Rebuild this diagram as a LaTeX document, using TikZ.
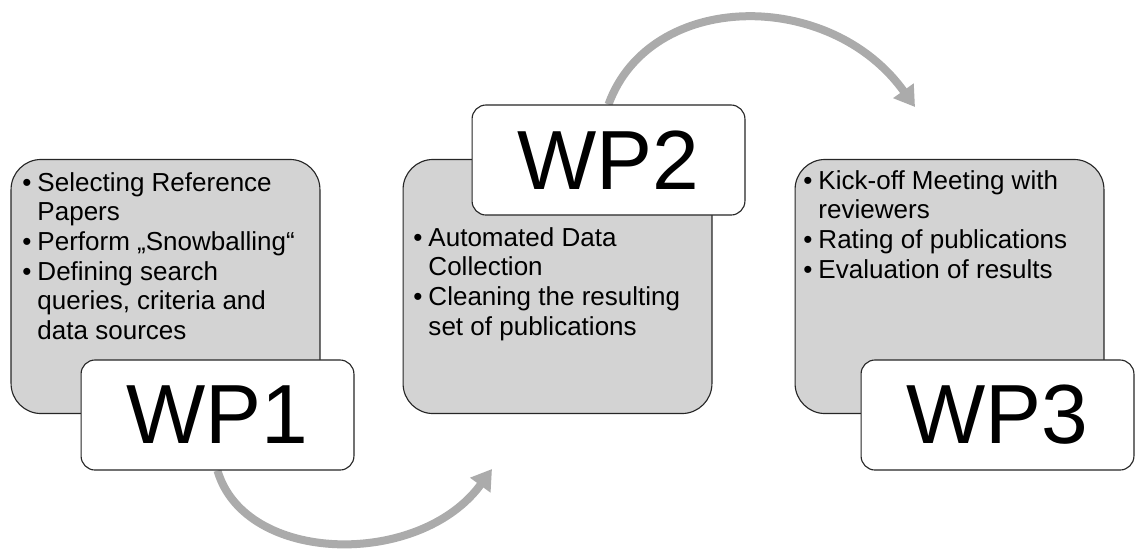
\documentclass[tikz,border=0pt]{standalone}
\usepackage{fontspec}
\setmainfont{Liberation Sans}
\usetikzlibrary{arrows.meta,backgrounds}
\definecolor{cajagris}{HTML}{D3D3D3}
\definecolor{flechagris}{HTML}{ABABAB}
\definecolor{borde}{HTML}{262626}
\newcommand{\bul}{\makebox[0.38cm][l]{\textbullet}}
\newcommand{\sig}{\hspace*{0.38cm}}

\begin{document}
\begin{tikzpicture}[x=0.025cm,y=-0.025cm,
    caja/.style={draw=borde,line width=0.8pt,fill=cajagris,rounded corners=0.75cm,
        minimum width=7.72cm,minimum height=6.35cm,inner sep=0pt},
    etiqueta/.style={draw=borde,line width=0.8pt,fill=white,rounded corners=0.35cm,
        minimum width=6.82cm,minimum height=2.75cm,inner sep=0pt,
        font=\fontsize{59.7}{60}\selectfont},
    lista/.style={anchor=north west,inner sep=0pt,align=left,
        font=\fontsize{18.5}{21.1}\selectfont},
    flecha/.style={flechagris,line width=0.2cm,-{Triangle[length=0.5cm,width=0.6cm]}}]
        \useasboundingbox (0,0) rectangle (1135,549);
        % Cajas grises
        \node[caja] (g1) at (165.5,286.5) {};
        \node[caja] (g2) at (557.5,286.5) {};
        \node[caja] (g3) at (949.5,286.5) {};
        % Listas
        \node[lista] (t1) at (22,172) {\bul Selecting Reference\\ \sig Papers\\
            \bul Perform „Snowballing“\\ \bul Defining search\\
            \sig queries, criteria and\\ \sig data sources};
        \node[lista] (t2) at (413,227) {\bul Automated Data\\ \sig Collection\\
            \bul Cleaning the resulting\\ \sig set of publications};
        \node[lista] (t3) at (803,170) {\bul Kick-off Meeting with\\ \sig reviewers\\
            \bul Rating of publications\\ \bul Evaluation of results};
        % Etiquetas WP
        \node[etiqueta] (wp1) at (217.5,415) {WP1};
        \node[etiqueta] (wp2) at (608.5,160) {WP2};
        \node[etiqueta] (wp3) at (997.5,415) {WP3};
        % Flechas
        \coordinate (f1) at (492,469);
        \coordinate (f2) at (915,107);
        \begin{scope}[on background layer]
            \draw[flecha] (wp1.south) .. controls (245,565) and (420,568) .. (f1);
            \draw[flecha] (wp2.north) .. controls (650,-10) and (830,-12) .. (f2);
        \end{scope}
    \end{tikzpicture}
\end{document}
